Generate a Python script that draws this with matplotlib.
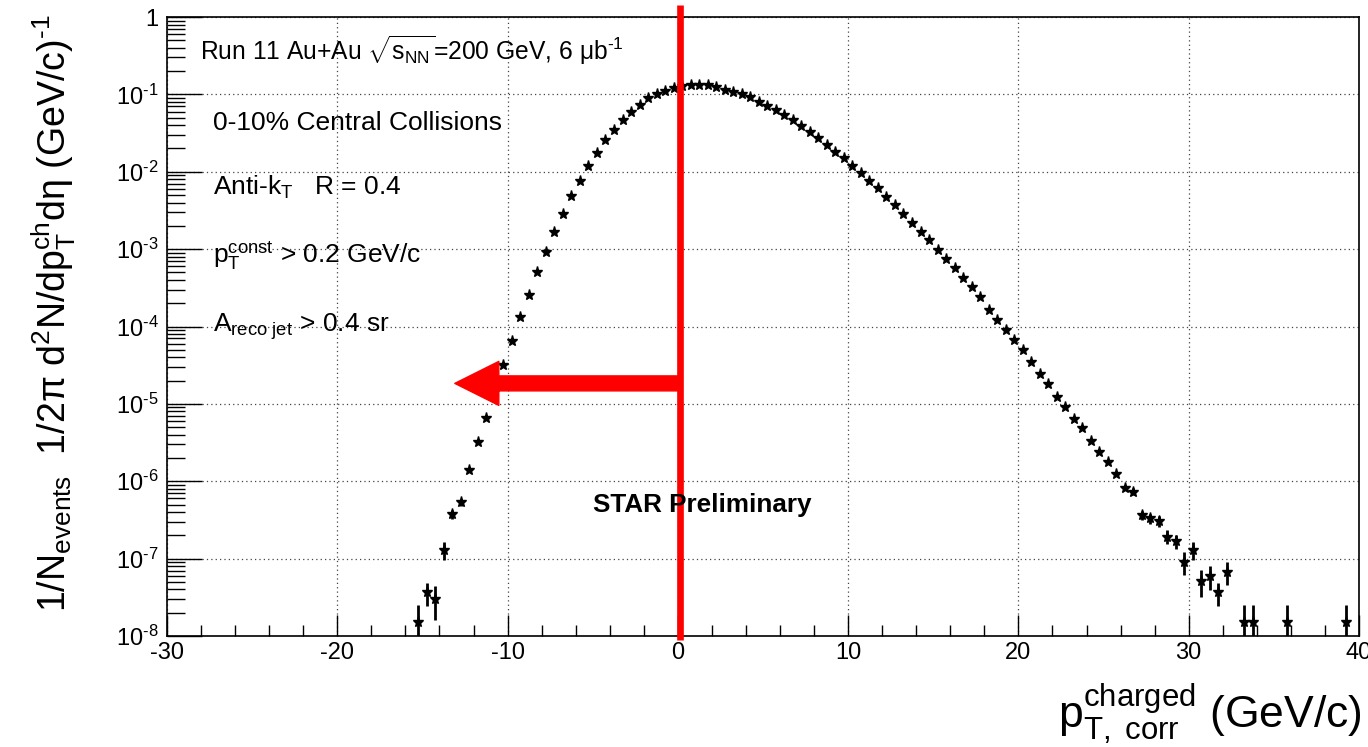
import numpy as np
import matplotlib
matplotlib.use('Agg')
import matplotlib.pyplot as plt
import matplotlib.transforms as mtransforms
from matplotlib.patches import FancyArrowPatch
from matplotlib.ticker import FixedLocator, FixedFormatter, LogLocator, NullFormatter, MultipleLocator

plt.rcParams['font.family'] = ['Liberation Sans', 'DejaVu Sans']
plt.rcParams['mathtext.fontset'] = 'custom'
plt.rcParams['mathtext.rm'] = 'Liberation Sans'
plt.rcParams['mathtext.it'] = 'Liberation Sans:italic'
plt.rcParams['mathtext.bf'] = 'Liberation Sans:bold'
plt.rcParams['mathtext.default'] = 'regular'

# bin centres (GeV/c)
pt = [-15.25, -14.75, -14.25, -13.75, -13.25, -12.75, -12.25, -11.75, -11.25, -10.75,
      -10.25, -9.75, -9.25, -8.75, -8.25, -7.75, -7.25, -6.75, -6.25, -5.75,
      -5.25, -4.75, -4.25, -3.75, -3.25, -2.75, -2.25, -1.75, -1.25, -0.75,
      -0.25, 0.25, 0.75, 1.25, 1.75, 2.25, 2.75, 3.25, 3.75, 4.25,
      4.75, 5.25, 5.75, 6.25, 6.75, 7.25, 7.75, 8.25, 8.75, 9.25,
      9.75, 10.25, 10.75, 11.25, 11.75, 12.25, 12.75, 13.25, 13.75, 14.25,
      14.75, 15.25, 15.75, 16.25, 16.75, 17.25, 17.75, 18.25, 18.75, 19.25,
      19.75, 20.25, 20.75, 21.25, 21.75, 22.25, 22.75, 23.25, 23.75, 24.25,
      24.75, 25.25, 25.75, 26.25, 26.75, 27.25, 27.75, 28.25, 28.75, 29.25,
      29.75, 30.25, 30.75, 31.25, 31.75, 32.25, 33.25, 33.75, 35.75, 39.25]

# per-event yield
dndpt = [1.5e-8, 3.65e-8, 3.0e-8, 1.3e-7, 3.76e-7, 5.37e-7, 1.40e-6, 3.26e-6, 6.5e-6, 1.45e-5,
         3.19e-5, 6.5e-5, 1.32e-4, 2.56e-4, 5.13e-4, 9.12e-4, 1.68e-3, 2.85e-3, 4.87e-3, 7.67e-3,
         0.0120, 0.0173, 0.0255, 0.0347, 0.0467, 0.0587, 0.0736, 0.0891, 0.101, 0.1116,
         0.120, 0.128, 0.132, 0.132, 0.131, 0.123, 0.114, 0.108, 0.100, 0.0916,
         0.079, 0.0708, 0.0629, 0.0542, 0.0467, 0.0391, 0.0324, 0.0276, 0.0222, 0.0182,
         0.0149, 0.0120, 0.00955, 0.0076, 0.00612, 0.00468, 0.00372, 0.00285, 0.00216, 0.00168,
         0.00131, 9.77e-4, 7.4e-4, 5.66e-4, 4.28e-4, 3.22e-4, 2.39e-4, 1.64e-4, 1.22e-4, 9.04e-5,
         6.71e-5, 4.9e-5, 3.52e-5, 2.42e-5, 1.79e-5, 1.24e-5, 9.06e-6, 6.34e-6, 4.85e-6, 3.33e-6,
         2.38e-6, 1.77e-6, 1.24e-6, 8.3e-7, 7.37e-7, 3.68e-7, 3.33e-7, 3.08e-7, 1.93e-7, 1.70e-7,
         9.18e-8, 1.30e-7, 5.17e-8, 6.0e-8, 3.65e-8, 6.8e-8, 1.5e-8, 1.5e-8, 1.5e-8, 1.5e-8]

# statistical errors
err = [1.0e-8, 1.2e-8, 1.4e-8, 3.5e-8, 5e-8, 6e-8, 1e-7, 1.5e-7, 0, 0,
       0, 0, 0, 0, 0, 0, 0, 0, 0, 0,
       0, 0, 0, 0, 0, 0, 0, 0, 0, 0,
       0, 0, 0, 0, 0, 0, 0, 0, 0, 0,
       0, 0, 0, 0, 0, 0, 0, 0, 0, 0,
       0, 0, 0, 0, 0, 0, 0, 0, 0, 0,
       0, 0, 0, 0, 0, 0, 0, 0, 0, 0,
       0, 0, 0, 0, 0, 0, 0, 0, 0, 0,
       0, 0, 0, 7e-8, 7e-8, 5e-8, 5e-8, 5e-8, 4e-8, 3.5e-8,
       3e-8, 3.5e-8, 2e-8, 2.1e-8, 1.2e-8, 2.3e-8, 1.0e-8, 1.0e-8, 1.0e-8, 1.0e-8]

xticks = [-30, -20, -10, 0, 10, 20, 30, 40]
xtick_labels = ['-30', '-20', '-10', '0', '10', '20', '30', '40']
yticks = [1e-8, 1e-7, 1e-6, 1e-5, 1e-4, 1e-3, 1e-2, 1e-1, 1]
ytick_labels = ['$10^{‐8}$', '$10^{‐7}$', '$10^{‐6}$', '$10^{‐5}$', '$10^{‐4}$',
                '$10^{‐3}$', '$10^{‐2}$', '$10^{‐1}$', '1']

fig = plt.figure(figsize=(13.68, 7.47), dpi=100)
ax = fig.add_axes([0.1221, 0.1486, 0.8713, 0.8286])

ax.errorbar(pt, dndpt, yerr=err, fmt='*', color='black', ms=8, elinewidth=2,
            capsize=0, zorder=3)

ax.set_yscale('log')
ax.set_xlim(-30, 40)
ax.set_ylim(1e-8, 1)

ax.xaxis.set_major_locator(FixedLocator(xticks))
ax.xaxis.set_major_formatter(FixedFormatter(xtick_labels))
ax.xaxis.set_minor_locator(MultipleLocator(2))
ax.yaxis.set_major_locator(FixedLocator(yticks))
ax.yaxis.set_major_formatter(FixedFormatter(ytick_labels))
ax.yaxis.set_minor_locator(LogLocator(base=10, subs=np.arange(2, 10), numticks=20))
ax.yaxis.set_minor_formatter(NullFormatter())

ax.tick_params(axis='x', which='major', direction='in', length=15, width=1, labelsize=17, pad=4)
ax.tick_params(axis='x', which='minor', direction='in', length=8, width=1)
ax.tick_params(axis='y', which='major', direction='in', length=25, width=1, labelsize=17, pad=6)
ax.tick_params(axis='y', which='minor', direction='in', length=13, width=1)

ax.grid(True, which='major', linestyle=(0, (1, 2.5)), color='#444444', lw=0.9)
for s in ax.spines.values():
    s.set_linewidth(1.2)

# red marker line and arrow
trans = mtransforms.blended_transform_factory(ax.transData, ax.transAxes)
ax.plot([0.15, 0.15], [-0.0065, 1.019], transform=trans, color='#ff0000', lw=4.8,
        clip_on=False, zorder=6, solid_capstyle='butt')
arrow = FancyArrowPatch(posA=(0.15, 1.84e-5), posB=(-13.1, 1.84e-5),
                        arrowstyle='simple,head_length=31.7,head_width=31.7,tail_width=10.8',
                        mutation_scale=1, color='#ff0000', shrinkA=0, shrinkB=0, zorder=6)
ax.add_patch(arrow)

W, H = 1368, 747
def ftext(x, y, s, **kw):
    fig.text(x / W, 1 - y / H, s, **kw)

ftext(200, 60, r'Run 11 Au+Au $\sqrt{s_{NN}}$=200 GeV, 6 μb$^{‐1}$', fontsize=17.7, va='baseline')
ftext(213, 130, '0-10% Central Collisions', fontsize=19, va='baseline')
ftext(213, 195, r'Anti-k$_{T}$   R = 0.4', fontsize=19, va='baseline')
ftext(213, 263, r'p$_{T}^{const}$ > 0.2 GeV/c', fontsize=19, va='baseline')
ftext(213, 332, r'A$_{reco\ jet}$ > 0.4 sr', fontsize=19, va='baseline')
ftext(593, 512, 'STAR Preliminary', fontsize=18.8, fontweight='bold', va='baseline', zorder=1)

ftext(1362, 727, r'p$_{T,\ corr}^{charged}$ (GeV/c)', fontsize=32, ha='right', va='baseline')
ftext(54, 313, r'1/N$_{events}$  1/2π d$^{2}$N/dp$_{T}^{ch}$dη (GeV/c)$^{‐1}$', fontsize=27,
      rotation=90, ha='center', va='center')

fig.savefig('out.png', dpi=100)
